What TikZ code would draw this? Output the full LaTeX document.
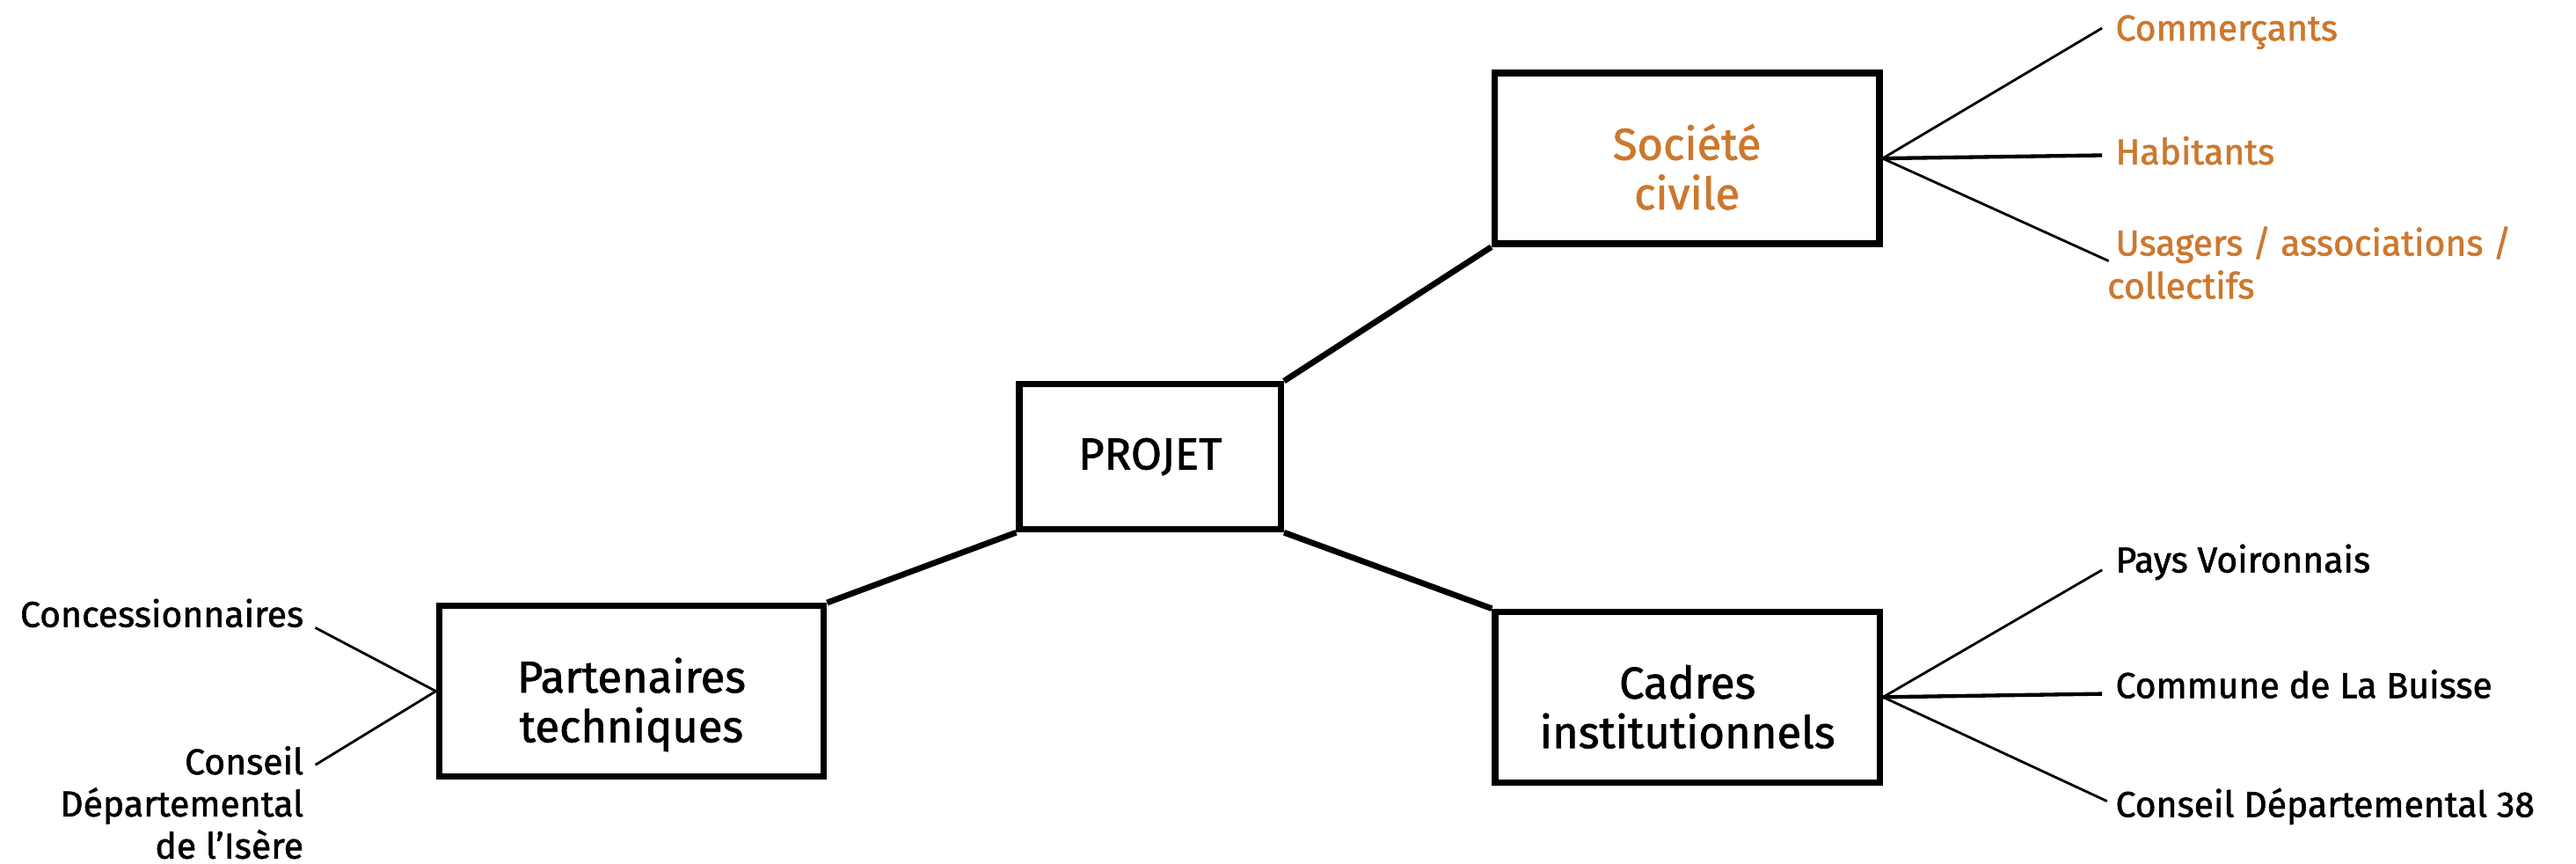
\documentclass[tikz,border=0pt]{standalone}
\usepackage{fontspec}
\setmainfont{Fira Sans}[RawFeature={embolden=1.4}]
\definecolor{orng}{RGB}{204,120,46}
\newcommand{\topstrut}{\rule{0pt}{38.6pt}}
\newcommand{\botstrut}{\rule[-7pt]{0pt}{7pt}}
\begin{document}
\begin{tikzpicture}[x=1pt,y=-1pt,
  box/.style={draw,line width=3.9pt,inner sep=0,align=center,font=\fontsize{27}{30}\selectfont},
  lbl/.style={inner sep=0,font=\fontsize{21.8}{26}\selectfont},
  thick link/.style={line width=3.6pt},
  fan/.style={line width=1.5pt},
  fanmid/.style={line width=2.3pt}]
\useasboundingbox (0,0) rectangle (1560,522.5);
\node[box,minimum width=158.3pt,minimum height=87.8pt] (pro) at (696.5,276.5) {PROJET};
\node[box,minimum width=233pt,minimum height=103.3pt,text=orng] (soc) at (1021.6,95.9) {\topstrut Société\\civile\botstrut};
\node[box,minimum width=233pt,minimum height=103.2pt] (par) at (382.4,418.4) {\topstrut Partenaires\\techniques\botstrut};
\node[box,minimum width=233pt,minimum height=103.3pt] (cad) at (1021.9,422) {\topstrut Cadres\\institutionnels\botstrut};
\draw[thick link] (pro.north east) -- (soc.south west);
\draw[thick link] (pro.south west) -- (par.north east);
\draw[thick link] (pro.south east) -- (cad.north west);
% Société civile
\node[lbl,anchor=base west,text=orng] (l1) at (1281,24.5) {Commerçants};
\node[lbl,anchor=base west,text=orng] (l2) at (1281,99.5) {Habitants};
\node[lbl,anchor=north west,align=left,text=orng] (l3) at (1276,136.5) {\rule{0pt}{18pt}\hspace*{5pt}Usagers / associations /\\collectifs};
\coordinate (e1) at (1273,17);
\coordinate (e2) at (1273,94);
\coordinate (e3) at (1277,158);
\draw[fan] (soc.east) -- (e1);
\draw[fanmid] (soc.east) -- (e2);
\draw[fan] (soc.east) -- (e3);
% Cadres
\node[lbl,anchor=base west] (m1) at (1281,346.5) {Pays Voironnais};
\node[lbl,anchor=base west] (m2) at (1281,422.5) {Commune de La Buisse};
\node[lbl,anchor=base west] (m3) at (1281,494.5) {Conseil Départemental 38};
\coordinate (f1) at (1273,345);
\coordinate (f2) at (1273,420);
\coordinate (f3) at (1276,485);
\draw[fan] (cad.east) -- (f1);
\draw[fanmid] (cad.east) -- (f2);
\draw[fan] (cad.east) -- (f3);
% Partenaires
\node[lbl,anchor=base east] (n1) at (184,379.5) {Concessionnaires};
\node[lbl,anchor=north east,align=right,font=\fontsize{21.8}{25.5}\selectfont] (n2) at (184,450.5) {\rule{0pt}{18pt}Conseil\\Départemental\\de l’Isère};
\coordinate (g1) at (191,380);
\coordinate (g2) at (191,463);
\draw[fan] (par.west) -- (g1);
\draw[fan] (par.west) -- (g2);
\end{tikzpicture}
\end{document}
